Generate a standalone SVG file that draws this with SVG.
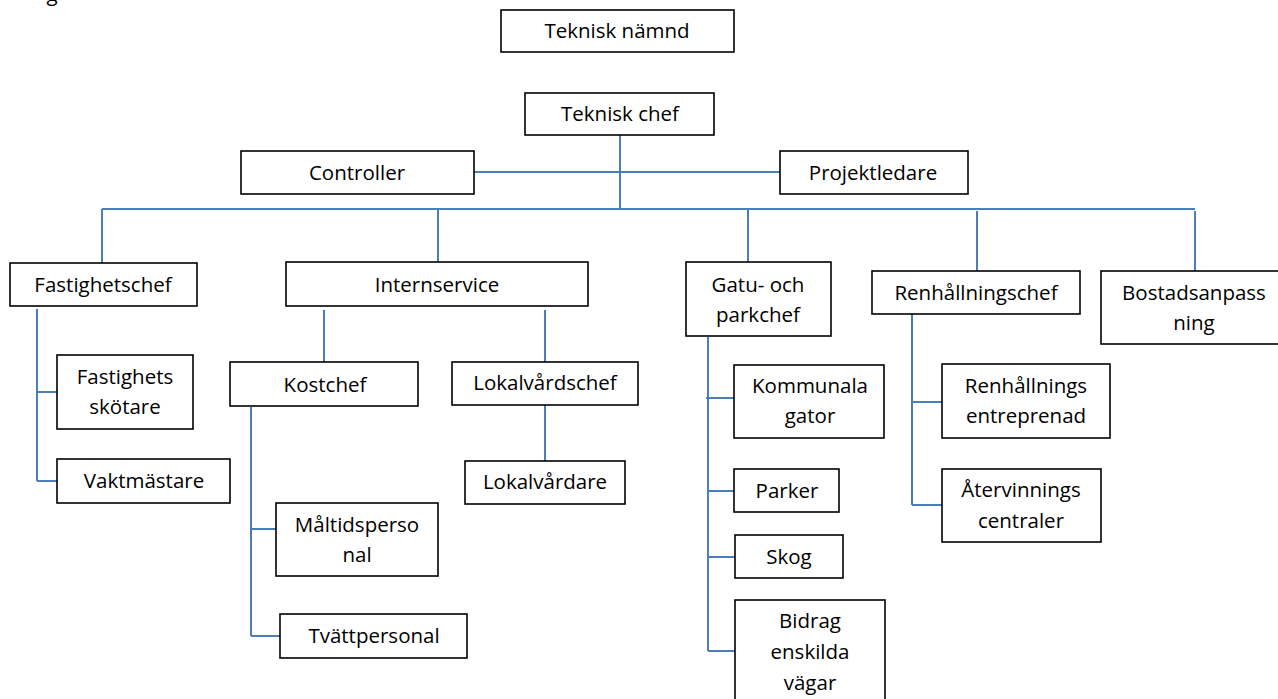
<svg xmlns="http://www.w3.org/2000/svg" width="1278" height="699" viewBox="0 0 1278 699">
<style>
  .box { fill: #ffffff; stroke: #000000; stroke-width: 1.6; }
  .lbl { font-family: "Open Sans", "Liberation Sans", sans-serif; font-size: 20.5px; fill: #000000; text-anchor: middle; }
  .con { stroke: #4a7ebb; stroke-width: 2; fill: none; }
</style>
<rect x="0" y="0" width="1278" height="699" fill="#ffffff"/>
<text class="lbl" x="52" y="1">g</text>
<g id="connectors">
  <path class="con" d="M620,135 V209 M474,172 H780 M102,209 H1195 M102,209 V263 M438,209 V262 M748,209 V262 M977,211 V271 M1195,211 V271"/>
  <path class="con" d="M37,309 V481 M37,392 H57 M37,481 H57"/>
  <path class="con" d="M324,310 V362 M545,310 V362 M545,405 V461"/>
  <path class="con" d="M251,407 V636 M251,529 H278 M251,636 H280"/>
  <path class="con" d="M708,337 V651 M706,398 H734 M708,491 H734 M708,557 H735 M708,651 H735"/>
  <path class="con" d="M912,314 V505 M912,402 H942 M912,505 H942"/>
</g>
<g id="teknisk-namnd"><rect class="box" x="501" y="10" width="233" height="42"/><text class="lbl" x="617" y="38">Teknisk nämnd</text></g>
<g id="teknisk-chef"><rect class="box" x="525" y="93" width="189" height="42"/><text class="lbl" x="620" y="121">Teknisk chef</text></g>
<g id="controller"><rect class="box" x="241" y="151" width="233" height="43"/><text class="lbl" x="357" y="180">Controller</text></g>
<g id="projektledare"><rect class="box" x="780" y="151" width="188" height="43"/><text class="lbl" x="873" y="180">Projektledare</text></g>
<g id="fastighetschef"><rect class="box" x="10" y="263" width="187" height="43"/><text class="lbl" x="103" y="292">Fastighetschef</text></g>
<g id="internservice"><rect class="box" x="286" y="262" width="302" height="44"/><text class="lbl" x="437" y="292">Internservice</text></g>
<g id="gatu-parkchef"><rect class="box" x="686" y="262" width="145" height="74"/><text class="lbl" x="758" y="292">Gatu- och</text><text class="lbl" x="758" y="322">parkchef</text></g>
<g id="renhallningschef"><rect class="box" x="872" y="271" width="208" height="43"/><text class="lbl" x="976" y="300">Renhållningschef</text></g>
<g id="bostadsanpassning"><rect class="box" x="1101" y="271" width="190" height="73"/><text class="lbl" x="1194" y="300">Bostadsanpass</text><text class="lbl" x="1194" y="330">ning</text></g>
<g id="fastighetsskotare"><rect class="box" x="57" y="355" width="136" height="74"/><text class="lbl" x="125" y="384">Fastighets</text><text class="lbl" x="125" y="414">skötare</text></g>
<g id="vaktmastare"><rect class="box" x="57" y="459" width="173" height="44"/><text class="lbl" x="144" y="488">Vaktmästare</text></g>
<g id="kostchef"><rect class="box" x="230" y="362" width="188" height="44"/><text class="lbl" x="325" y="392">Kostchef</text></g>
<g id="lokalvardschef"><rect class="box" x="452" y="362" width="186" height="43"/><text class="lbl" x="545" y="390">Lokalvårdschef</text></g>
<g id="lokalvardare"><rect class="box" x="465" y="461" width="160" height="43"/><text class="lbl" x="545" y="489">Lokalvårdare</text></g>
<g id="maltidspersonal"><rect class="box" x="276" y="503" width="162" height="73"/><text class="lbl" x="357" y="532">Måltidsperso</text><text class="lbl" x="357" y="562">nal</text></g>
<g id="tvattpersonal"><rect class="box" x="280" y="614" width="187" height="44"/><text class="lbl" x="374" y="643">Tvättpersonal</text></g>
<g id="kommunala-gator"><rect class="box" x="734" y="365" width="150" height="73"/><text class="lbl" x="810" y="393">Kommunala</text><text class="lbl" x="810" y="423">gator</text></g>
<g id="parker"><rect class="box" x="734" y="469" width="105" height="43"/><text class="lbl" x="787" y="498">Parker</text></g>
<g id="skog"><rect class="box" x="735" y="535" width="108" height="43"/><text class="lbl" x="789" y="564">Skog</text></g>
<g id="bidrag"><rect class="box" x="735" y="600" width="150" height="110"/><text class="lbl" x="810" y="628">Bidrag</text><text class="lbl" x="810" y="659">enskilda</text><text class="lbl" x="810" y="690">vägar</text></g>
<g id="renhallnings-entreprenad"><rect class="box" x="942" y="364" width="168" height="74"/><text class="lbl" x="1026" y="393">Renhållnings</text><text class="lbl" x="1026" y="423">entreprenad</text></g>
<g id="atervinningscentraler"><rect class="box" x="942" y="469" width="159" height="73"/><text class="lbl" x="1021" y="497">Återvinnings</text><text class="lbl" x="1021" y="528">centraler</text></g>
</svg>
